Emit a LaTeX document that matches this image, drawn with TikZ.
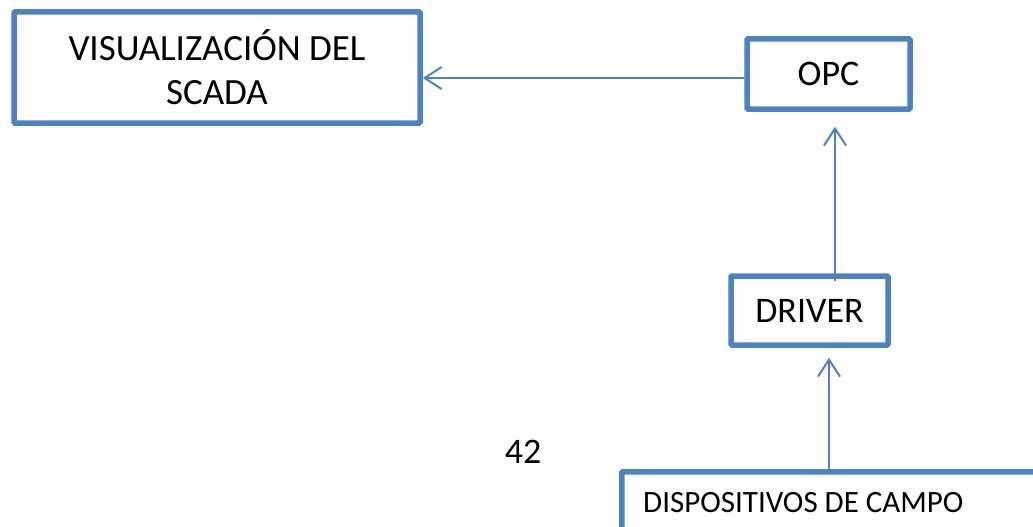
\documentclass[tikz,border=0pt]{standalone}
\usepackage{fontspec}
\setmainfont{Carlito}
\usetikzlibrary{arrows.meta}
\definecolor{boxblue}{RGB}{79,129,189}
\begin{document}
\begin{tikzpicture}[x=1pt,y=1pt,
  blockbox/.style={draw=boxblue, line width=5.5pt, rounded corners=1pt, inner sep=0pt, align=center, text=black},
  flow/.style={draw=boxblue, line width=2pt, -{Straight Barb[length=17pt,width=22pt]}}
]
\useasboundingbox (0,0) rectangle (1033,-527);
\clip (0,0) rectangle (1033,-527);

% blocks of the chain
\node[blockbox, minimum width=406pt, minimum height=111pt,
      font=\fontsize{37}{44}\selectfont] (scada) at (217,-67.5)
      {VISUALIZACIÓN DEL\\SCADA};
\node[blockbox, minimum width=163pt, minimum height=70pt,
      font=\fontsize{36}{44}\selectfont] (opc) at (828.5,-74) {OPC};
\node[blockbox, minimum width=157pt, minimum height=69pt,
      font=\fontsize{36}{44}\selectfont] (driver) at (809.5,-310.5) {DRIVER};
\node[blockbox, minimum width=700pt, minimum height=160pt, anchor=north west]
      (campo) at (619,-469) {};
\node[anchor=base west, inner sep=0pt, font=\fontsize{31}{36}\selectfont]
      (campotxt) at (643,-512) {DISPOSITIVOS DE CAMPO};

% page number
\node[inner sep=0pt, font=\fontsize{36}{44}\selectfont] (pagenum) at (523,-451.5) {42};

% data flow
\draw[flow] (opc.west |- 0,-78) -- (scada.east |- 0,-78);
\draw[flow, shorten <=-8pt, shorten >=15pt]
  ([xshift=25.5pt]driver.north) -- ([xshift=25.5pt]driver.north |- opc.south);
\draw[flow, shorten >=10pt]
  ([xshift=19.5pt]driver.south |- campo.north) -- ([xshift=19.5pt]driver.south);
\end{tikzpicture}
\end{document}
